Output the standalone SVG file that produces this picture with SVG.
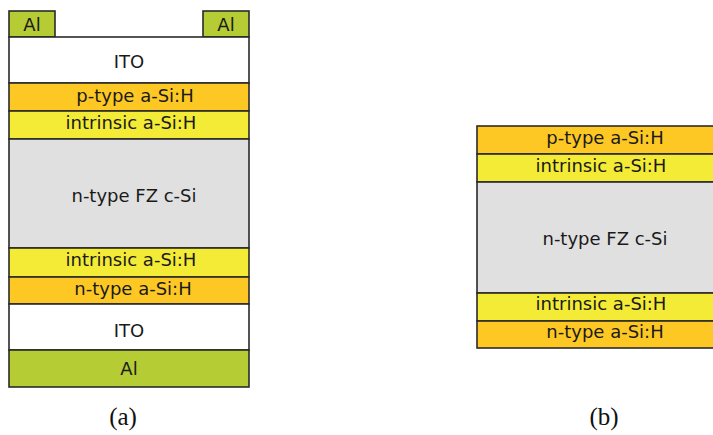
<svg xmlns="http://www.w3.org/2000/svg" width="713" height="435" viewBox="0 0 713 435">
<style>
.l{stroke:#2a2a2a;stroke-width:1.6}
.al{fill:#b5cc34}
.ito{fill:#ffffff}
.p{fill:#fdc824}
.i{fill:#f3eb35}
.c{fill:#e0e0e0}
.t{font-family:"DejaVu Sans",Verdana,sans-serif;font-size:18px;fill:#1a1a1a;text-anchor:middle}
.cap{font-family:"Liberation Serif","Times New Roman",serif;font-size:25px;fill:#111;text-anchor:middle}
</style>
<rect width="713" height="435" fill="#ffffff"/>
<g id="stack-a">
<g id="a-al-left"><rect class="l al" x="9" y="11" width="46" height="26"/><text class="t" x="32" y="31">Al</text></g>
<g id="a-al-right"><rect class="l al" x="203" y="11" width="46" height="26"/><text class="t" x="226" y="31">Al</text></g>
<g id="a-ito-top"><rect class="l ito" x="9" y="37" width="240" height="46"/><text class="t" x="129" y="68">ITO</text></g>
<g id="a-p"><rect class="l p" x="9" y="83" width="240" height="28"/><text class="t" x="135" y="102">p-type a-Si:H</text></g>
<g id="a-i-top"><rect class="l i" x="9" y="111" width="240" height="28"/><text class="t" x="131" y="129">intrinsic a-Si:H</text></g>
<g id="a-csi"><rect class="l c" x="9" y="139" width="240" height="109"/><text class="t" x="134" y="202">n-type FZ c-Si</text></g>
<g id="a-i-bot"><rect class="l i" x="9" y="248" width="240" height="29"/><text class="t" x="131" y="266">intrinsic a-Si:H</text></g>
<g id="a-n"><rect class="l p" x="9" y="277" width="240" height="27"/><text class="t" x="133" y="295">n-type a-Si:H</text></g>
<g id="a-ito-bot"><rect class="l ito" x="9" y="304" width="240" height="46"/><text class="t" x="129" y="337">ITO</text></g>
<g id="a-al-bot"><rect class="l al" x="9" y="350" width="240" height="37"/><text class="t" x="129" y="375">Al</text></g>
</g>
<g id="stack-b">
<g id="b-p"><rect class="l p" x="477" y="126" width="245" height="28"/><text class="t" x="605" y="144">p-type a-Si:H</text></g>
<g id="b-i-top"><rect class="l i" x="477" y="154" width="245" height="28"/><text class="t" x="601" y="172">intrinsic a-Si:H</text></g>
<g id="b-csi"><rect class="l c" x="477" y="182" width="245" height="111"/><text class="t" x="605" y="245">n-type FZ c-Si</text></g>
<g id="b-i-bot"><rect class="l i" x="477" y="293" width="245" height="28"/><text class="t" x="601" y="310">intrinsic a-Si:H</text></g>
<g id="b-n"><rect class="l p" x="477" y="321" width="245" height="27"/><text class="t" x="605" y="338">n-type a-Si:H</text></g>
</g>
<g id="connectors"></g>
<text class="cap" x="123" y="425">(a)</text>
<text class="cap" x="604" y="425">(b)</text>
</svg>
